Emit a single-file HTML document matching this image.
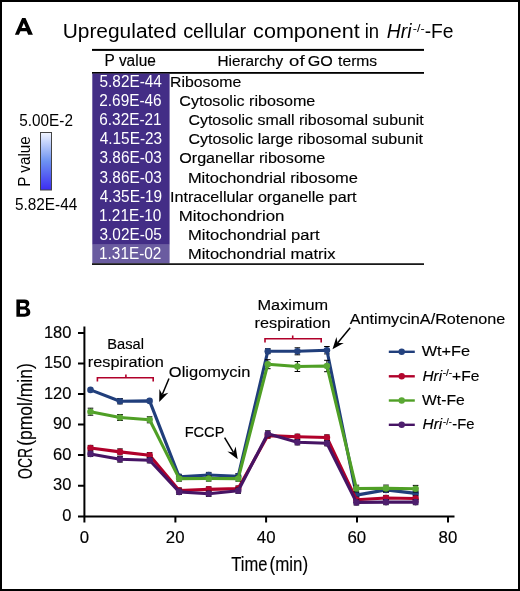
<!DOCTYPE html>
<html><head><meta charset="utf-8"><style>
html,body{margin:0;padding:0;background:#fff;}
svg{display:block;will-change:transform;font-family:"Liberation Sans", sans-serif;}
text{stroke:#000;stroke-width:0.15px;}
text[fill="#fff"]{stroke:none;}
.ns{stroke:none;}
</style></head><body>
<svg width="520" height="591" viewBox="0 0 520 591">
<defs>
<linearGradient id="pg" x1="0" y1="0" x2="0" y2="1">
<stop offset="0" stop-color="#f2f5ff"/>
<stop offset="0.5" stop-color="#6d92f2"/>
<stop offset="1" stop-color="#3c2cf2"/>
</linearGradient>
</defs>
<rect x="1" y="1" width="518" height="589" fill="#fff" stroke="#000" stroke-width="2"/>
<rect x="92" y="48.9" width="332" height="2" fill="#000"/>
<rect x="92" y="72" width="332" height="1.8" fill="#000"/>
<rect x="92.3" y="73.6" width="77.3" height="171.2" fill="#432d86"/>
<rect x="92.3" y="244.8" width="77.3" height="18.6" fill="#6a5ca0"/>
<rect x="92" y="263.3" width="332" height="1.6" fill="#000"/>
<rect x="40.5" y="132.5" width="11" height="57.5" fill="url(#pg)" stroke="#444" stroke-width="1"/>
<path fill-rule="evenodd" d="M14.9 34.7L22.1 17.9H25.5L32.9 34.7H28.2L26.7 31.3H20.4L18.9 34.7ZM21.7 27.9L23.8 23.0L25.9 27.9Z"/>
<path fill-rule="evenodd" d="M16.4 299.4H24.5C27.5 299.4 29.3 300.8 29.3 303.3C29.3 305.2 28.3 306.5 26.8 307.6C29.0 308.3 30.3 310.0 30.3 312.3C30.3 315.2 28.0 316.7 24.8 316.7H16.4ZM20 303H24.2C25.3 303 25.9 303.8 25.9 304.7C25.9 305.7 25.3 306.4 24.2 306.4H20ZM20 309.5H24.6C25.8 309.5 26.5 310.5 26.5 311.6C26.5 312.9 25.8 313.8 24.6 313.8H20Z"/>
<g stroke="#000" stroke-width="2" fill="none">
<path d="M84.4 326.5V522.5"/>
<path d="M78 516.4H454.5"/>
<path d="M78 333H84.4M78 363.5H84.4M78 394H84.4M78 424.6H84.4M78 455.1H84.4M78 485.7H84.4"/>
<path d="M175.4 516.4V522.5M266.1 516.4V522.5M357 516.4V522.5M448 516.4V522.5"/>
</g>
<g stroke="#b0002a" stroke-width="1.6" fill="none">
<path d="M97.4 381.6V377.8H153.2V381.6M125.9 377.8V374.6"/>
<path d="M265 342.6V338.8H321.2V342.6M292.7 338.8V335.6"/>
</g>
<path d="M169.0 378.5L162.3 394.5" stroke="#000" stroke-width="1.5" fill="none"/><path d="M159.2 401.9L159.4 389.0L162.3 394.5L168.3 392.7Z" fill="#000"/><path d="M224.6 437.7L233.5 452.4" stroke="#000" stroke-width="1.5" fill="none"/><path d="M237.7 459.2L227.4 451.4L233.5 452.4L235.6 446.5Z" fill="#000"/><path d="M350.2 327.7L337.6 343.0" stroke="#000" stroke-width="1.5" fill="none"/><path d="M332.5 349.2L336.4 336.9L337.6 343.0L343.8 343.0Z" fill="#000"/>
<path d="M120.0 398.5V403.9M117.2 398.5h5.6M117.2 403.9h5.6" stroke="#000" stroke-width="1" fill="none"/>
<path d="M179.2 474.3V479.5M176.3 474.3h5.6M176.3 479.5h5.6" stroke="#000" stroke-width="1" fill="none"/>
<path d="M208.7 472.4V477.6M205.9 472.4h5.6M205.9 477.6h5.6" stroke="#000" stroke-width="1" fill="none"/>
<path d="M238.2 473.6V478.8M235.4 473.6h5.6M235.4 478.8h5.6" stroke="#000" stroke-width="1" fill="none"/>
<path d="M267.8 348.7V353.7M265.0 348.7h5.6M265.0 353.7h5.6" stroke="#000" stroke-width="1" fill="none"/>
<path d="M297.4 347.8V354.8M294.6 347.8h5.6M294.6 354.8h5.6" stroke="#000" stroke-width="1" fill="none"/>
<path d="M326.9 346.5V353.9M324.1 346.5h5.6M324.1 353.9h5.6" stroke="#000" stroke-width="1" fill="none"/>
<path d="M356.4 492.5V497.7M353.6 492.5h5.6M353.6 497.7h5.6" stroke="#000" stroke-width="1" fill="none"/>
<path d="M386.0 487.3V492.5M383.2 487.3h5.6M383.2 492.5h5.6" stroke="#000" stroke-width="1" fill="none"/>
<path d="M415.6 490.8V496.0M412.8 490.8h5.6M412.8 496.0h5.6" stroke="#000" stroke-width="1" fill="none"/>
<polyline points="90.5,389.9 120.0,401.2 149.6,400.9 179.2,476.9 208.7,475.0 238.2,476.2 267.8,351.2 297.4,351.3 326.9,350.2 356.4,495.1 386.0,489.9 415.6,493.4" fill="none" stroke="#203e7b" stroke-width="3.1" stroke-linejoin="round"/>
<circle cx="90.5" cy="389.9" r="3.3" fill="#24427f"/>
<circle cx="120.0" cy="401.2" r="3.3" fill="#24427f"/>
<circle cx="149.6" cy="400.9" r="3.3" fill="#24427f"/>
<circle cx="179.2" cy="476.9" r="3.3" fill="#24427f"/>
<circle cx="208.7" cy="475.0" r="3.3" fill="#24427f"/>
<circle cx="238.2" cy="476.2" r="3.3" fill="#24427f"/>
<circle cx="267.8" cy="351.2" r="3.3" fill="#24427f"/>
<circle cx="297.4" cy="351.3" r="3.3" fill="#24427f"/>
<circle cx="326.9" cy="350.2" r="3.3" fill="#24427f"/>
<circle cx="356.4" cy="495.1" r="3.3" fill="#24427f"/>
<circle cx="386.0" cy="489.9" r="3.3" fill="#24427f"/>
<circle cx="415.6" cy="493.4" r="3.3" fill="#24427f"/>
<path d="M90.5 445.4V450.6M87.7 445.4h5.6M87.7 450.6h5.6" stroke="#000" stroke-width="1" fill="none"/>
<path d="M120.0 448.9V454.9M117.2 448.9h5.6M117.2 454.9h5.6" stroke="#000" stroke-width="1" fill="none"/>
<path d="M149.6 452.6V457.8M146.8 452.6h5.6M146.8 457.8h5.6" stroke="#000" stroke-width="1" fill="none"/>
<path d="M179.2 487.9V493.1M176.3 487.9h5.6M176.3 493.1h5.6" stroke="#000" stroke-width="1" fill="none"/>
<path d="M208.7 486.8V492.0M205.9 486.8h5.6M205.9 492.0h5.6" stroke="#000" stroke-width="1" fill="none"/>
<path d="M238.2 486.0V491.2M235.4 486.0h5.6M235.4 491.2h5.6" stroke="#000" stroke-width="1" fill="none"/>
<path d="M267.8 433.0V438.2M265.0 433.0h5.6M265.0 438.2h5.6" stroke="#000" stroke-width="1" fill="none"/>
<path d="M297.4 434.2V439.4M294.6 434.2h5.6M294.6 439.4h5.6" stroke="#000" stroke-width="1" fill="none"/>
<path d="M326.9 434.9V440.1M324.1 434.9h5.6M324.1 440.1h5.6" stroke="#000" stroke-width="1" fill="none"/>
<path d="M356.4 497.2V502.4M353.6 497.2h5.6M353.6 502.4h5.6" stroke="#000" stroke-width="1" fill="none"/>
<path d="M386.0 495.4V500.6M383.2 495.4h5.6M383.2 500.6h5.6" stroke="#000" stroke-width="1" fill="none"/>
<path d="M415.6 495.9V501.1M412.8 495.9h5.6M412.8 501.1h5.6" stroke="#000" stroke-width="1" fill="none"/>
<polyline points="90.5,448.0 120.0,451.9 149.6,455.2 179.2,490.5 208.7,489.4 238.2,488.6 267.8,435.6 297.4,436.8 326.9,437.5 356.4,499.8 386.0,498.0 415.6,498.5" fill="none" stroke="#b0002a" stroke-width="3.1" stroke-linejoin="round"/>
<circle cx="90.5" cy="448.0" r="3.3" fill="#b3062e"/>
<circle cx="120.0" cy="451.9" r="3.3" fill="#b3062e"/>
<circle cx="149.6" cy="455.2" r="3.3" fill="#b3062e"/>
<circle cx="179.2" cy="490.5" r="3.3" fill="#b3062e"/>
<circle cx="208.7" cy="489.4" r="3.3" fill="#b3062e"/>
<circle cx="238.2" cy="488.6" r="3.3" fill="#b3062e"/>
<circle cx="267.8" cy="435.6" r="3.3" fill="#b3062e"/>
<circle cx="297.4" cy="436.8" r="3.3" fill="#b3062e"/>
<circle cx="326.9" cy="437.5" r="3.3" fill="#b3062e"/>
<circle cx="356.4" cy="499.8" r="3.3" fill="#b3062e"/>
<circle cx="386.0" cy="498.0" r="3.3" fill="#b3062e"/>
<circle cx="415.6" cy="498.5" r="3.3" fill="#b3062e"/>
<path d="M90.5 408.2V415.2M87.7 408.2h5.6M87.7 415.2h5.6" stroke="#000" stroke-width="1" fill="none"/>
<path d="M120.0 414.5V420.5M117.2 414.5h5.6M117.2 420.5h5.6" stroke="#000" stroke-width="1" fill="none"/>
<path d="M149.6 416.8V422.8M146.8 416.8h5.6M146.8 422.8h5.6" stroke="#000" stroke-width="1" fill="none"/>
<path d="M179.2 476.0V481.2M176.3 476.0h5.6M176.3 481.2h5.6" stroke="#000" stroke-width="1" fill="none"/>
<path d="M208.7 475.9V481.1M205.9 475.9h5.6M205.9 481.1h5.6" stroke="#000" stroke-width="1" fill="none"/>
<path d="M238.2 476.0V481.2M235.4 476.0h5.6M235.4 481.2h5.6" stroke="#000" stroke-width="1" fill="none"/>
<path d="M267.8 359.7V368.7M265.0 359.7h5.6M265.0 368.7h5.6" stroke="#000" stroke-width="1" fill="none"/>
<path d="M297.4 361.5V371.5M294.6 361.5h5.6M294.6 371.5h5.6" stroke="#000" stroke-width="1" fill="none"/>
<path d="M326.9 360.3V371.7M324.1 360.3h5.6M324.1 371.7h5.6" stroke="#000" stroke-width="1" fill="none"/>
<path d="M356.4 485.2V491.8M353.6 485.2h5.6M353.6 491.8h5.6" stroke="#000" stroke-width="1" fill="none"/>
<path d="M386.0 485.1V491.7M383.2 485.1h5.6M383.2 491.7h5.6" stroke="#000" stroke-width="1" fill="none"/>
<path d="M415.6 485.4V492.0M412.8 485.4h5.6M412.8 492.0h5.6" stroke="#000" stroke-width="1" fill="none"/>
<polyline points="90.5,411.7 120.0,417.5 149.6,419.8 179.2,478.6 208.7,478.5 238.2,478.6 267.8,364.2 297.4,366.5 326.9,366.0 356.4,488.5 386.0,488.4 415.6,488.7" fill="none" stroke="#4f9f25" stroke-width="3.1" stroke-linejoin="round"/>
<circle cx="90.5" cy="411.7" r="3.3" fill="#5aa834"/>
<circle cx="120.0" cy="417.5" r="3.3" fill="#5aa834"/>
<circle cx="149.6" cy="419.8" r="3.3" fill="#5aa834"/>
<circle cx="179.2" cy="478.6" r="3.3" fill="#5aa834"/>
<circle cx="208.7" cy="478.5" r="3.3" fill="#5aa834"/>
<circle cx="238.2" cy="478.6" r="3.3" fill="#5aa834"/>
<circle cx="267.8" cy="364.2" r="3.3" fill="#5aa834"/>
<circle cx="297.4" cy="366.5" r="3.3" fill="#5aa834"/>
<circle cx="326.9" cy="366.0" r="3.3" fill="#5aa834"/>
<circle cx="356.4" cy="488.5" r="3.3" fill="#5aa834"/>
<circle cx="386.0" cy="488.4" r="3.3" fill="#5aa834"/>
<circle cx="415.6" cy="488.7" r="3.3" fill="#5aa834"/>
<path d="M90.5 451.3V456.5M87.7 451.3h5.6M87.7 456.5h5.6" stroke="#000" stroke-width="1" fill="none"/>
<path d="M120.0 456.5V462.1M117.2 456.5h5.6M117.2 462.1h5.6" stroke="#000" stroke-width="1" fill="none"/>
<path d="M149.6 457.7V462.9M146.8 457.7h5.6M146.8 462.9h5.6" stroke="#000" stroke-width="1" fill="none"/>
<path d="M179.2 489.3V494.5M176.3 489.3h5.6M176.3 494.5h5.6" stroke="#000" stroke-width="1" fill="none"/>
<path d="M208.7 491.2V496.4M205.9 491.2h5.6M205.9 496.4h5.6" stroke="#000" stroke-width="1" fill="none"/>
<path d="M238.2 488.1V493.3M235.4 488.1h5.6M235.4 493.3h5.6" stroke="#000" stroke-width="1" fill="none"/>
<path d="M267.8 430.8V436.8M265.0 430.8h5.6M265.0 436.8h5.6" stroke="#000" stroke-width="1" fill="none"/>
<path d="M297.4 439.7V444.9M294.6 439.7h5.6M294.6 444.9h5.6" stroke="#000" stroke-width="1" fill="none"/>
<path d="M326.9 440.6V445.8M324.1 440.6h5.6M324.1 445.8h5.6" stroke="#000" stroke-width="1" fill="none"/>
<path d="M356.4 499.8V505.0M353.6 499.8h5.6M353.6 505.0h5.6" stroke="#000" stroke-width="1" fill="none"/>
<path d="M386.0 499.5V504.7M383.2 499.5h5.6M383.2 504.7h5.6" stroke="#000" stroke-width="1" fill="none"/>
<path d="M415.6 499.5V504.7M412.8 499.5h5.6M412.8 504.7h5.6" stroke="#000" stroke-width="1" fill="none"/>
<polyline points="90.5,453.9 120.0,459.3 149.6,460.3 179.2,491.9 208.7,493.8 238.2,490.7 267.8,433.8 297.4,442.3 326.9,443.2 356.4,502.4 386.0,502.1 415.6,502.1" fill="none" stroke="#461464" stroke-width="3.1" stroke-linejoin="round"/>
<circle cx="90.5" cy="453.9" r="3.3" fill="#4e1f6e"/>
<circle cx="120.0" cy="459.3" r="3.3" fill="#4e1f6e"/>
<circle cx="149.6" cy="460.3" r="3.3" fill="#4e1f6e"/>
<circle cx="179.2" cy="491.9" r="3.3" fill="#4e1f6e"/>
<circle cx="208.7" cy="493.8" r="3.3" fill="#4e1f6e"/>
<circle cx="238.2" cy="490.7" r="3.3" fill="#4e1f6e"/>
<circle cx="267.8" cy="433.8" r="3.3" fill="#4e1f6e"/>
<circle cx="297.4" cy="442.3" r="3.3" fill="#4e1f6e"/>
<circle cx="326.9" cy="443.2" r="3.3" fill="#4e1f6e"/>
<circle cx="356.4" cy="502.4" r="3.3" fill="#4e1f6e"/>
<circle cx="386.0" cy="502.1" r="3.3" fill="#4e1f6e"/>
<circle cx="415.6" cy="502.1" r="3.3" fill="#4e1f6e"/>
<g stroke-width="2.4">
<path d="M388.8 351.8H414.8" stroke="#203e7b"/>
<path d="M388.8 376.3H414.8" stroke="#b0002a"/>
<path d="M388.8 400.5H414.8" stroke="#4f9f25"/>
<path d="M388.8 424.8H414.8" stroke="#461464"/>
</g>
<circle cx="401.7" cy="351.8" r="3.2" fill="#24427f"/>
<circle cx="401.7" cy="376.3" r="3.2" fill="#b3062e"/>
<circle cx="401.7" cy="400.5" r="3.2" fill="#5aa834"/>
<circle cx="401.7" cy="424.8" r="3.2" fill="#4e1f6e"/>
<text x="62.69" y="38.00" font-size="20" class="ns" textLength="113.88" lengthAdjust="spacingAndGlyphs">Upregulated</text>
<text x="183.18" y="38.00" font-size="20" class="ns" textLength="63.02" lengthAdjust="spacingAndGlyphs">cellular</text>
<text x="253.13" y="38.00" font-size="20" class="ns" textLength="106.60" lengthAdjust="spacingAndGlyphs">component</text>
<text x="364.64" y="38.00" font-size="20" class="ns" textLength="14.39" lengthAdjust="spacingAndGlyphs">in</text>
<text x="386.70" y="38.00" font-size="20" font-style="italic" class="ns" textLength="24.76" lengthAdjust="spacingAndGlyphs">Hri</text>
<text x="412.89" y="32.00" font-size="11" class="ns" textLength="11.84" lengthAdjust="spacingAndGlyphs">-/-</text>
<text x="424.70" y="38.00" font-size="20" class="ns" textLength="28.88" lengthAdjust="spacingAndGlyphs">-Fe</text>
<text x="104.60" y="65.60" font-size="16" textLength="51.22" lengthAdjust="spacingAndGlyphs">P value</text>
<text x="217.40" y="65.60" font-size="15.5" textLength="65.70" lengthAdjust="spacingAndGlyphs">Hierarchy</text>
<text x="289.12" y="65.60" font-size="15.5" textLength="15.41" lengthAdjust="spacingAndGlyphs">of</text>
<text x="307.65" y="65.60" font-size="15.5" textLength="25.05" lengthAdjust="spacingAndGlyphs">GO</text>
<text x="338.10" y="65.60" font-size="15.5" textLength="39.09" lengthAdjust="spacingAndGlyphs">terms</text>
<text x="19.32" y="125.70" font-size="16" class="ns" textLength="53.60" lengthAdjust="spacingAndGlyphs">5.00E-2</text>
<text x="14.92" y="209.80" font-size="16" class="ns" textLength="62.36" lengthAdjust="spacingAndGlyphs">5.82E-44</text>
<text transform="translate(30.00,185.60) rotate(-90)" x="-1.19" y="0" font-size="16" class="ns" textLength="50.60" lengthAdjust="spacingAndGlyphs">P value</text>
<text transform="translate(32.40,478.30) rotate(-90)" x="-0.65" y="0" font-size="20.5" textLength="30.94" lengthAdjust="spacingAndGlyphs">OCR</text>
<text transform="translate(32.40,445.00) rotate(-90)" x="-0.82" y="0" font-size="20.5" textLength="82.63" lengthAdjust="spacingAndGlyphs">(pmol/min)</text>
<text x="231.34" y="571.00" font-size="19.5" textLength="36.13" lengthAdjust="spacingAndGlyphs">Time</text>
<text x="269.51" y="571.00" font-size="19.5" textLength="38.57" lengthAdjust="spacingAndGlyphs">(min)</text>
<text x="107.25" y="348.50" font-size="15.5" textLength="36.71" lengthAdjust="spacingAndGlyphs">Basal</text>
<text x="87.78" y="367.20" font-size="15.5" textLength="76.03" lengthAdjust="spacingAndGlyphs">respiration</text>
<text x="168.83" y="376.70" font-size="15.5" textLength="81.50" lengthAdjust="spacingAndGlyphs">Oligomycin</text>
<text x="184.66" y="437.40" font-size="15.5" textLength="39.75" lengthAdjust="spacingAndGlyphs">FCCP</text>
<text x="257.53" y="309.60" font-size="15.5" textLength="70.62" lengthAdjust="spacingAndGlyphs">Maximum</text>
<text x="254.58" y="327.50" font-size="15.5" textLength="75.93" lengthAdjust="spacingAndGlyphs">respiration</text>
<text x="349.80" y="324.20" font-size="15.5" textLength="155.46" lengthAdjust="spacingAndGlyphs">AntimycinA/Rotenone</text>
<text x="421.70" y="356.20" font-size="15.5" textLength="48.46" lengthAdjust="spacingAndGlyphs">Wt+Fe</text>
<text x="422.46" y="380.70" font-size="15.5" font-style="italic" textLength="19.71" lengthAdjust="spacingAndGlyphs">Hri</text>
<text x="442.79" y="376.00" font-size="8.5" textLength="9.40" lengthAdjust="spacingAndGlyphs">-/-</text>
<text x="452.07" y="380.70" font-size="15.5" textLength="27.26" lengthAdjust="spacingAndGlyphs">+Fe</text>
<text x="422.00" y="405.30" font-size="15.5" textLength="42.74" lengthAdjust="spacingAndGlyphs">Wt-Fe</text>
<text x="422.56" y="429.30" font-size="15.5" font-style="italic" textLength="19.61" lengthAdjust="spacingAndGlyphs">Hri</text>
<text x="443.13" y="424.60" font-size="8.5" textLength="8.52" lengthAdjust="spacingAndGlyphs">-/-</text>
<text x="452.24" y="429.30" font-size="15.5" textLength="22.16" lengthAdjust="spacingAndGlyphs">-Fe</text>
<text x="43.91" y="337.70" font-size="16" textLength="27.50" lengthAdjust="spacingAndGlyphs">180</text>
<text x="43.91" y="368.23" font-size="16" textLength="27.50" lengthAdjust="spacingAndGlyphs">150</text>
<text x="43.91" y="398.76" font-size="16" textLength="27.50" lengthAdjust="spacingAndGlyphs">120</text>
<text x="53.08" y="429.30" font-size="16" textLength="18.33" lengthAdjust="spacingAndGlyphs">90</text>
<text x="53.08" y="459.83" font-size="16" textLength="18.33" lengthAdjust="spacingAndGlyphs">60</text>
<text x="53.08" y="490.37" font-size="16" textLength="18.33" lengthAdjust="spacingAndGlyphs">30</text>
<text x="62.24" y="520.90" font-size="16" textLength="9.17" lengthAdjust="spacingAndGlyphs">0</text>
<text x="79.68" y="543.20" font-size="16" textLength="9.34" lengthAdjust="spacingAndGlyphs">0</text>
<text x="165.87" y="543.20" font-size="16" textLength="18.69" lengthAdjust="spacingAndGlyphs">20</text>
<text x="256.83" y="543.20" font-size="16" textLength="18.69" lengthAdjust="spacingAndGlyphs">40</text>
<text x="347.47" y="543.20" font-size="16" textLength="18.69" lengthAdjust="spacingAndGlyphs">60</text>
<text x="438.60" y="543.20" font-size="16" textLength="18.69" lengthAdjust="spacingAndGlyphs">80</text>
<text x="99.52" y="86.70" font-size="16" fill="#fff" textLength="62.36" lengthAdjust="spacingAndGlyphs">5.82E-44</text>
<text x="170.06" y="86.70" font-size="15.5" textLength="71.18" lengthAdjust="spacingAndGlyphs">Ribosome</text>
<text x="99.28" y="105.80" font-size="16" fill="#fff" textLength="62.36" lengthAdjust="spacingAndGlyphs">2.69E-46</text>
<text x="179.25" y="105.80" font-size="15.5" textLength="136.01" lengthAdjust="spacingAndGlyphs">Cytosolic ribosome</text>
<text x="99.28" y="124.80" font-size="16" fill="#fff" textLength="62.36" lengthAdjust="spacingAndGlyphs">6.32E-21</text>
<text x="188.45" y="124.80" font-size="15.5" textLength="235.29" lengthAdjust="spacingAndGlyphs">Cytosolic small ribosomal subunit</text>
<text x="99.76" y="143.90" font-size="16" fill="#fff" textLength="62.36" lengthAdjust="spacingAndGlyphs">4.15E-23</text>
<text x="188.45" y="143.90" font-size="15.5" textLength="234.49" lengthAdjust="spacingAndGlyphs">Cytosolic large ribosomal subunit</text>
<text x="99.52" y="162.90" font-size="16" fill="#fff" textLength="62.36" lengthAdjust="spacingAndGlyphs">3.86E-03</text>
<text x="179.24" y="162.90" font-size="15.5" textLength="146.01" lengthAdjust="spacingAndGlyphs">Organellar ribosome</text>
<text x="99.52" y="182.90" font-size="16" fill="#fff" textLength="62.36" lengthAdjust="spacingAndGlyphs">3.86E-03</text>
<text x="187.91" y="182.90" font-size="15.5" textLength="170.05" lengthAdjust="spacingAndGlyphs">Mitochondrial ribosome</text>
<text x="99.76" y="202.00" font-size="16" fill="#fff" textLength="62.36" lengthAdjust="spacingAndGlyphs">4.35E-19</text>
<text x="170.04" y="202.00" font-size="15.5" textLength="186.51" lengthAdjust="spacingAndGlyphs">Intracellular organelle part</text>
<text x="99.04" y="221.00" font-size="16" fill="#fff" textLength="62.36" lengthAdjust="spacingAndGlyphs">1.21E-10</text>
<text x="178.68" y="221.00" font-size="15.5" textLength="105.76" lengthAdjust="spacingAndGlyphs">Mitochondrion</text>
<text x="99.52" y="239.90" font-size="16" fill="#fff" textLength="62.36" lengthAdjust="spacingAndGlyphs">3.02E-05</text>
<text x="187.91" y="239.90" font-size="15.5" textLength="131.74" lengthAdjust="spacingAndGlyphs">Mitochondrial part</text>
<text x="99.04" y="259.10" font-size="16" fill="#fff" textLength="62.36" lengthAdjust="spacingAndGlyphs">1.31E-02</text>
<text x="187.91" y="259.10" font-size="15.5" textLength="147.49" lengthAdjust="spacingAndGlyphs">Mitochondrial matrix</text>
</svg>
</body></html>
